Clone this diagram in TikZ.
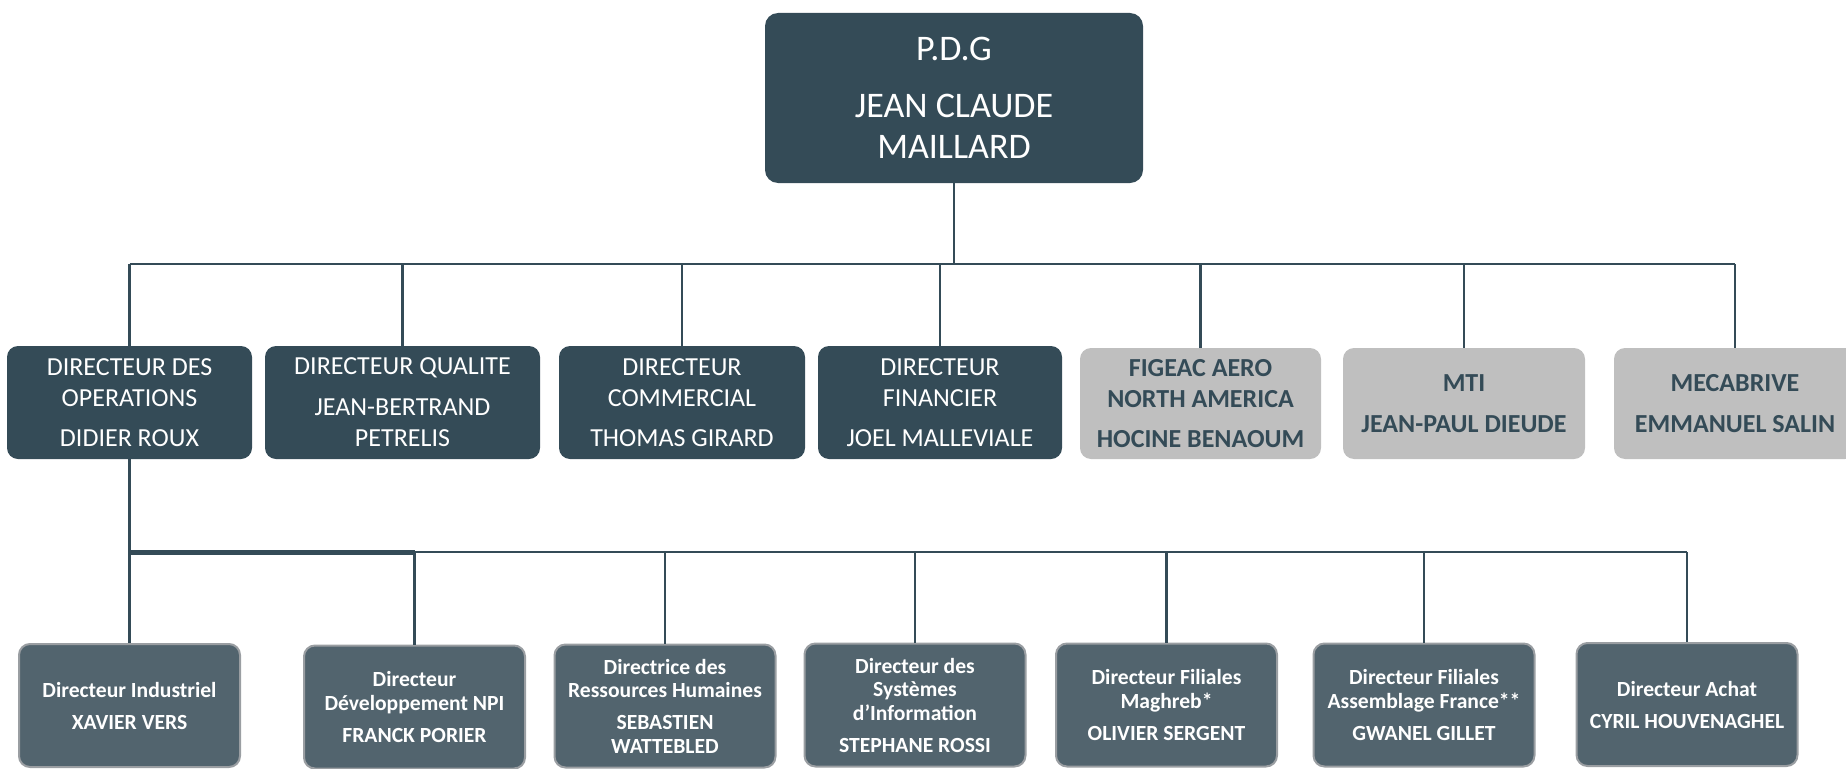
\documentclass[tikz,border=0pt]{standalone}
\usepackage{fontspec}
\setmainfont{Carlito}
\definecolor{dark}{HTML}{344B57}
\definecolor{mid}{HTML}{52646E}
\definecolor{greyfill}{HTML}{BFBFBF}
\definecolor{edge}{HTML}{9A9EA2}
\begin{document}
\begin{tikzpicture}[x=1pt,y=-1pt,
 box/.style={rounded corners=11pt, inner sep=0pt, align=center},
 topbox/.style={box, fill=dark, text=white, rounded corners=13pt, font=\fontsize{36}{41}\selectfont},
 dirbox/.style={box, fill=dark, text=white, minimum height=113pt, font=\fontsize{26}{31}\selectfont},
 subbox/.style={box, fill=greyfill, text=dark, minimum height=111pt, font=\fontsize{26}{31}\selectfont\bfseries},
 staffbox/.style={box, fill=mid, draw=edge, line width=2pt, text=white, minimum width=221pt, minimum height=123pt, font=\fontsize{21.6}{23.5}\selectfont\bfseries},
 link/.style={draw=dark, line width=2.6pt}]
\useasboundingbox (0,0) rectangle (1846,768);
\clip (0,0) rectangle (1846,768);
% top
\node[topbox, minimum width=378pt, minimum height=170pt] (pdg) at (954,98) {P.D.G\\[16pt]JEAN CLAUDE\\MAILLARD};
% middle row
\node[dirbox, minimum width=245pt] (o1) at (129.5,402.5) {DIRECTEUR DES\\OPERATIONS\\[9pt]DIDIER ROUX};
\node[dirbox, minimum width=275pt] (o2) at (402.5,402.5) {DIRECTEUR QUALITE\\[10pt]JEAN-BERTRAND\\PETRELIS};
\node[dirbox, minimum width=246pt] (o3) at (682,402.5) {DIRECTEUR\\COMMERCIAL\\[9pt]THOMAS GIRARD};
\node[dirbox, minimum width=244pt] (o4) at (940,402.5) {DIRECTEUR\\FINANCIER\\[9pt]JOEL MALLEVIALE};
\node[subbox, minimum width=241pt] (g1) at (1200.5,403.5) {FIGEAC AERO\\NORTH AMERICA\\[9pt]HOCINE BENAOUM};
\node[subbox, minimum width=242pt] (g2) at (1464,403.5) {MTI\\[10pt]JEAN-PAUL DIEUDE};
\node[subbox, minimum width=242pt] (g3) at (1735,403.5) {MECABRIVE\\[10pt]EMMANUEL SALIN};
% bottom row
\node[staffbox] (s1) at (129.5,705.5) {Directeur Industriel\\[8.5pt]XAVIER VERS};
\node[staffbox] (s2) at (414.5,707) {Directeur\\Développement NPI\\[8.5pt]FRANCK PORIER};
\node[staffbox] (s3) at (665,706) {Directrice des\\Ressources Humaines\\[8.5pt]SEBASTIEN\\WATTEBLED};
\node[staffbox] (s4) at (915,705) {Directeur des\\Systèmes\\d’Information\\[8.5pt]STEPHANE ROSSI};
\node[staffbox] (s5) at (1166.5,705) {Directeur Filiales\\Maghreb*\\[8.5pt]OLIVIER SERGENT};
\node[staffbox] (s6) at (1424,705) {Directeur Filiales\\Assemblage France**\\[8.5pt]GWANEL GILLET};
\node[staffbox] (s7) at (1687,704.5) {Directeur Achat\\[8.5pt]CYRIL HOUVENAGHEL};
% connectors top
\coordinate (busL) at (129.5,264);
\coordinate (busR) at (1735,264);
\draw[link] (pdg.south) -- (pdg.south |- busL);
\draw[link] (busL) -- (busR);
\foreach \n in {o1,o2,o3,o4,g1,g2,g3} {\draw[link] (\n.north |- busL) -- (\n.north);}
% connectors bottom
\coordinate (bL) at (129.5,552);
\coordinate (bR) at (1687,552);
\draw[link] (o1.south) -- (o1.south |- bL);
\draw[link] (bL) -- (bR);
\draw[link, line width=5pt] (bL) -- (s2.north |- bL);
\foreach \n in {s1,s2,s3,s4,s5,s6,s7} {\draw[link] (\n.north |- bL) -- (\n.north);}
\end{tikzpicture}
\end{document}
